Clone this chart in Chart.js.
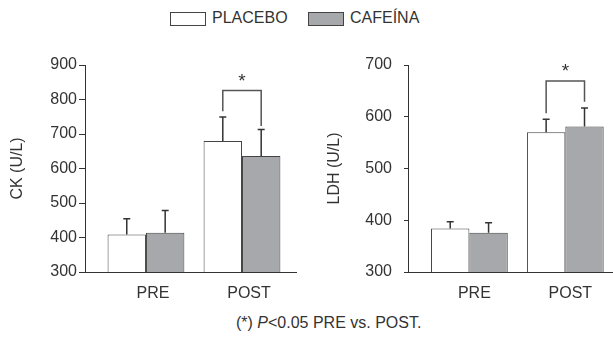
<!DOCTYPE html>
<html>
<head>
<meta charset="utf-8">
<script src="https://cdn.jsdelivr.net/npm/chart.js@4.4.1/dist/chart.umd.min.js"></script>
<style>
  body { margin: 0; background: #fff; font-family: "Liberation Sans", Arial, sans-serif; color: #333; }
  #page { position: relative; width: 613px; height: 345px; overflow: hidden; }
  .box { position: absolute; top: 12px; width: 34px; height: 12px; border: 1px solid #444; }
  .lbl { position: absolute; top: 9px; font-size: 16px; line-height: 18px; color: #333; }
  .wrap { position: absolute; top: 40px; height: 270px; }
  #note { position: absolute; top: 313px; left: 236px; font-size: 16px; line-height: 20px; color: #333; white-space: nowrap; }
</style>
</head>
<body>
<div id="page">
  <div class="box" style="left:170px;background:#fff"></div>
  <div class="lbl" style="left:212px">PLACEBO</div>
  <div class="box" style="left:308px;background:#a6a8ab"></div>
  <div class="lbl" style="left:350px">CAFEÍNA</div>
  <div class="wrap" style="left:0;width:300px"><canvas id="ck"></canvas></div>
  <div class="wrap" style="left:306px;width:307px"><canvas id="ldh"></canvas></div>
  <div id="note">(*) <i>P</i>&lt;0.05 PRE vs. POST.</div>
</div>
<script>
const categories = ['PRE', 'POST'];

const ckPlacebo = [409, 680];
const ckPlaceboErr = [45, 69];
const ckCafeina = [414, 636];
const ckCafeinaErr = [64, 77];

const ldhPlacebo = [384, 570];
const ldhPlaceboErr = [13, 25];
const ldhCafeina = [376, 581];
const ldhCafeinaErr = [19, 36];

// bracket: [top, left leg end, right leg end]
const ckBracket = [826, 766, 723];
const ldhBracket = [669, 607, 629];

const placeboColor = '#ffffff';
const cafeinaColor = '#a6a8ab';
const ink = '#333';

const errorBars = {
  id: 'errorBars',
  afterDatasetsDraw(chart, args, opts) {
    const c = chart.ctx;
    const y = chart.scales.y;
    c.save();
    c.strokeStyle = ink;
    c.lineWidth = 1.5;
    chart.data.datasets.forEach((ds, i) => {
      chart.getDatasetMeta(i).data.forEach((bar, j) => {
        const top = y.getPixelForValue(ds.data[j].y + ds.err[j]);
        c.beginPath();
        c.moveTo(bar.x, bar.y);
        c.lineTo(bar.x, top);
        c.moveTo(bar.x - 3.5, top);
        c.lineTo(bar.x + 3.5, top);
        c.stroke();
      });
    });
    // significance bracket over POST
    const b = opts.bracket;
    const xl = chart.getDatasetMeta(0).data[1].x;
    const xr = chart.getDatasetMeta(1).data[1].x;
    const yt = y.getPixelForValue(b[0]);
    c.strokeStyle = '#555';
    c.beginPath();
    c.moveTo(xl, y.getPixelForValue(b[1]));
    c.lineTo(xl, yt);
    c.lineTo(xr, yt);
    c.lineTo(xr, y.getPixelForValue(b[2]));
    c.stroke();
    c.fillStyle = ink;
    c.font = '19px "Liberation Sans", Arial';
    c.textAlign = 'center';
    c.textBaseline = 'middle';
    c.fillText('*', (xl + xr) / 2, yt - 9);
    c.restore();
  }
};

function makeChart(id, placebo, placeboErr, cafeina, cafeinaErr, cfg) {
  const pts = v => v.map((y, i) => ({ x: i, y: y }));
  return new Chart(document.getElementById(id), {
    type: 'bar',
    data: {
      datasets: [{
        label: 'PLACEBO',
        data: pts(placebo),
        err: placeboErr,
        backgroundColor: placeboColor,
        borderColor: '#444',
        borderWidth: 1
      }, {
        label: 'CAFEÍNA',
        data: pts(cafeina),
        err: cafeinaErr,
        backgroundColor: cafeinaColor,
        borderColor: '#444',
        borderWidth: 1
      }]
    },
    options: {
      responsive: true,
      maintainAspectRatio: false,
      animation: false,
      events: [],
      categoryPercentage: 0.8,
      barPercentage: 1.0,
      layout: { padding: { top: 25, right: cfg.padRight, left: 0, bottom: 0 } },
      plugins: {
        legend: { display: false },
        tooltip: { enabled: false },
        errorBars: { bracket: cfg.bracket }
      },
      scales: {
        x: {
          type: 'linear',
          min: cfg.xMin,
          max: cfg.xMax,
          bounds: 'data',
          offset: false,
          grid: { display: false },
          border: { color: ink, width: 1 },
          afterFit: s => { s.height = 38; },
          afterBuildTicks: s => { s.ticks = categories.map((c, i) => ({ value: i })); },
          ticks: {
            autoSkip: false,
            maxRotation: 0,
            padding: 4,
            labelOffset: cfg.labelShift,
            color: ink,
            font: { family: '"Liberation Sans", Arial', size: 16 },
            callback: v => categories[v]
          }
        },
        y: {
          min: cfg.yMin,
          max: cfg.yMax,
          grid: { drawOnChartArea: false, tickLength: cfg.tickLength, color: ink },
          border: { color: ink, width: 1 },
          afterFit: s => { s.width = cfg.axisWidth; },
          ticks: {
            stepSize: 100,
            padding: cfg.tickPad,
            color: ink,
            font: { family: '"Liberation Sans", Arial', size: 16 }
          },
          title: {
            display: true,
            text: cfg.title,
            color: ink,
            padding: { top: cfg.titlePad, bottom: 0 },
            font: { family: '"Liberation Sans", Arial', size: 16 }
          }
        }
      }
    },
    plugins: [errorBars]
  });
}

makeChart('ck', ckPlacebo, ckPlaceboErr, ckCafeina, ckCafeinaErr, {
  title: 'CK (U/L)', yMin: 300, yMax: 900, axisWidth: 85, tickLength: 6, tickPad: 2,
  titlePad: 8, padRight: 4, xMin: -0.635, xMax: 1.5625, labelShift: 7, bracket: ckBracket
});
makeChart('ldh', ldhPlacebo, ldhPlaceboErr, ldhCafeina, ldhCafeinaErr, {
  title: 'LDH (U/L)', yMin: 300, yMax: 700, axisWidth: 102, tickLength: 4, tickPad: 12,
  titlePad: 19, padRight: 0, xMin: -0.64, xMax: 1.497, labelShift: 5, bracket: ldhBracket
});
</script>
</body>
</html>
